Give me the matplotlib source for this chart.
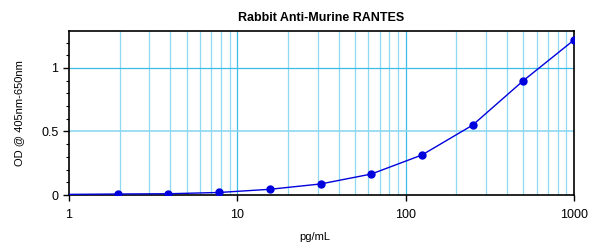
import matplotlib
matplotlib.use('Agg')
from matplotlib import pyplot as plt
from matplotlib.ticker import FixedLocator, MultipleLocator, NullFormatter

plt.rcParams['font.family'] = ['Liberation Sans', 'DejaVu Sans']

# standard curve points
conc = [1.95, 3.9, 7.8, 15.6, 31.25, 62.5, 125, 250, 500, 1000]
od = [0.008, 0.01, 0.02, 0.045, 0.087, 0.165, 0.315, 0.55, 0.90, 1.22]
# fitted line start (read at x=1)
line_x = [1] + conc
line_y = [0.005] + od

title = 'Rabbit Anti-Murine RANTES'
xlab = 'pg/mL'
ylab = 'OD @ 405nm-650nm'

fig = plt.figure(figsize=(5.89, 2.45), dpi=100)
ax = fig.add_axes([0.117, 0.204, 0.8575, 0.669])
ax.set_xscale('log')
ax.set_xlim(1, 1000)
ax.set_ylim(0, 1.29)

# grid
minors = [m * d for d in (1, 10, 100) for m in range(2, 10)]
for v in minors:
    ax.axvline(v, color='#8fd8f2', lw=0.9, zorder=1)
for v in (10, 100):
    ax.axvline(v, color='#3cbde9', lw=0.9, zorder=1)
ax.axhline(0.5, color='#8fd8f2', lw=1.2, zorder=1)
ax.axhline(1.0, color='#3cbde9', lw=0.9, zorder=1)

ax.plot(line_x, line_y, color='#0000dd', lw=1.0, zorder=3)
ax.plot(conc, od, 'o', color='#0000dd', ms=5, zorder=4)

ax.xaxis.set_major_locator(FixedLocator([1, 10, 100, 1000]))
ax.set_xticklabels(['1', '10', '100', '1000'])
ax.xaxis.set_minor_formatter(NullFormatter())
ax.tick_params(axis='x', which='minor', length=0)
ax.set_yticks([0, 0.5, 1])
ax.set_yticklabels(['0', '0.5', '1'])
ax.yaxis.set_minor_locator(MultipleLocator(0.1))
ax.tick_params(axis='both', which='major', labelsize=9, length=4, width=1)
ax.tick_params(axis='x', which='major', pad=6)
ax.tick_params(axis='y', which='minor', length=2, width=0.8)

for s in ax.spines.values():
    s.set_linewidth(1.2)

ax.set_title(title, fontsize=9, fontweight='bold', pad=7)
fig.text(315 / 589, 1 - 237 / 245, xlab, fontsize=8, ha='center', va='center')
ax.set_ylabel(ylab, fontsize=8, labelpad=12)

plt.savefig('out.png', dpi=100)
